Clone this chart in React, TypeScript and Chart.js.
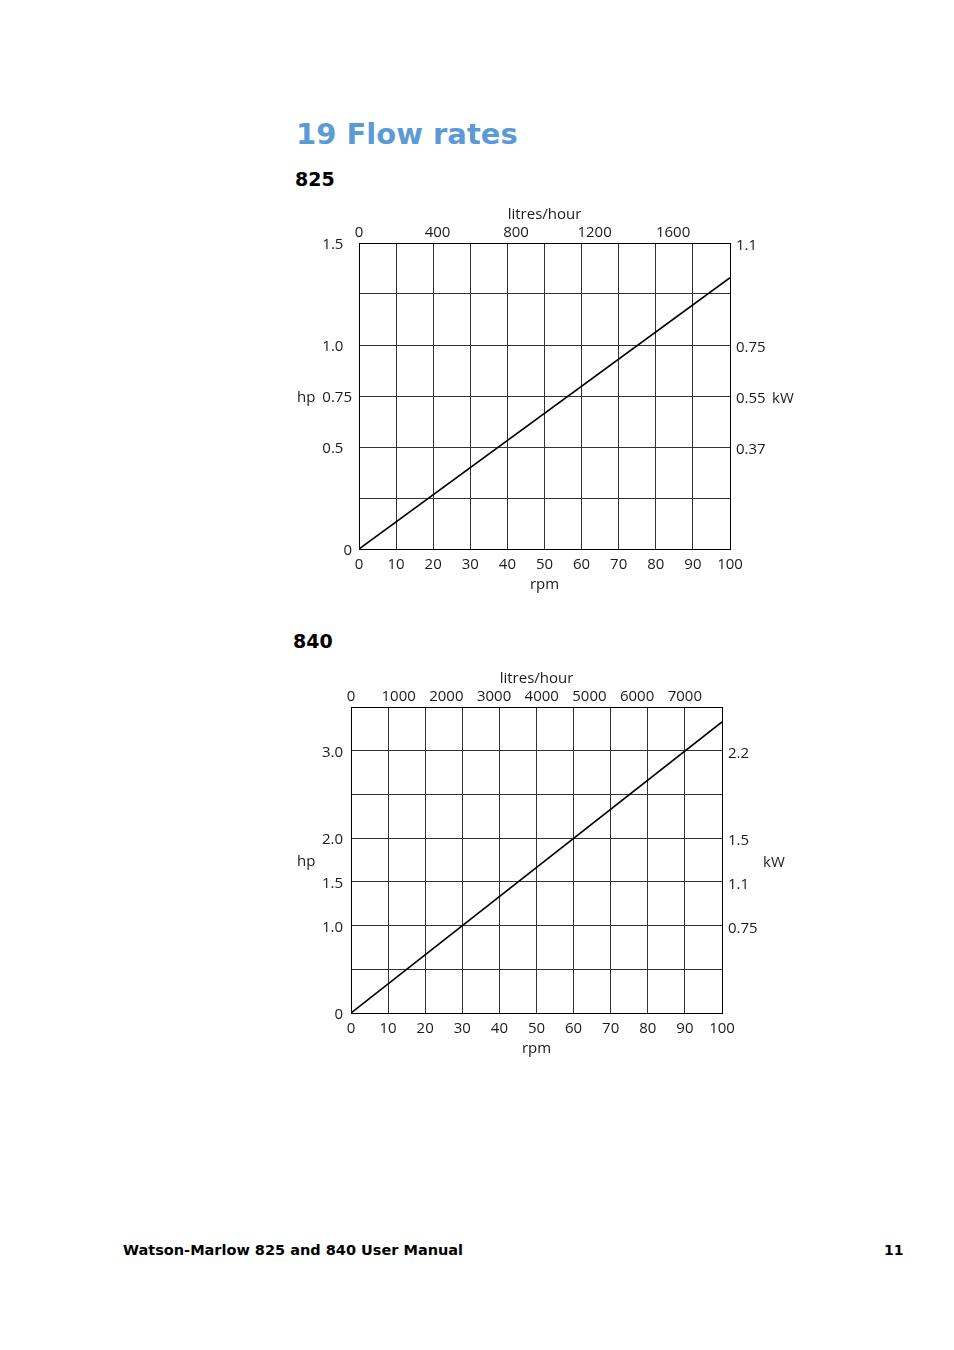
import { useEffect, useRef } from 'react';
import { Chart, registerables } from 'chart.js';
import type { Plugin } from 'chart.js';

Chart.register(...registerables);

// shared rpm axis
const RPM_TICKS = [0, 10, 20, 30, 40, 50, 60, 70, 80, 90, 100];

// 825 pump
const P825_RPM = [0, 100];
const P825_HP = [0, 1.33];
const P825_HP_GRID = [0, 0.25, 0.5, 0.75, 1.0, 1.25, 1.5];
const P825_HP_LABELS = ['0', '', '0.5', '0.75', '1.0', '', '1.5'];
const P825_KW_LABELS = ['', '', '0.37', '0.55', '0.75', '', '1.1'];
const P825_LH_TICKS = [0, 400, 800, 1200, 1600];
const P825_LH_MAX = 1890;

// 840 pump
const P840_RPM = [0, 100];
const P840_HP = [0, 3.33];
const P840_HP_GRID = [0, 0.5, 1.0, 1.5, 2.0, 2.5, 3.0, 3.5];
const P840_HP_LABELS = ['0', '', '1.0', '1.5', '2.0', '', '3.0', ''];
const P840_KW_LABELS = ['', '', '0.75', '1.1', '1.5', '', '2.2', ''];
const P840_LH_TICKS = [0, 1000, 2000, 3000, 4000, 5000, 6000, 7000];
const P840_LH_MAX = 7780;

const FONT = "'Open Sans', sans-serif";
const INK = '#1a1a1a';
const GRID = '#333';

interface Props {
  rpm: number[];
  hp: number[];
  hpGrid: number[];
  hpLabels: string[];
  kwLabels: string[];
  lhTicks: number[];
  lhMax: number;
  unitAt: number;
  leftPad: number;
  decimalAlign: boolean;   // 825 sheet lines the hp labels up on the decimal point
  hpOffset: number;
  kwOffset: number;
  style: React.CSSProperties;
}

const W = 520;
const H = 405;

function PowerChart(p: Props) {
  const canvasRef = useRef<HTMLCanvasElement>(null);

  useEffect(() => {
    if (!canvasRef.current) return;
    const tickFont = { family: FONT, size: 15 };
    const setTicks = (vals: number[]) => (s: any) => { s.ticks = vals.map(v => ({ value: v })); };

    // "hp" / "kW" unit labels, drawn level with a value on the hp scale
    const units: Plugin = {
      id: 'units',
      afterDraw(chart) {
        const { ctx, chartArea, scales } = chart;
        const y = scales.y.getPixelForValue(p.unitAt);
        ctx.save();
        ctx.font = `15px ${FONT}`;
        ctx.fillStyle = INK;
        ctx.textBaseline = 'middle';
        ctx.textAlign = 'left';
        ctx.fillText('hp', chartArea.left - p.hpOffset, y + 2);
        ctx.fillText('kW', chartArea.right + p.kwOffset, y + 3);
        ctx.restore();
      },
    };

    const chart = new Chart(canvasRef.current, {
      type: 'line',
      data: {
        datasets: [{
          data: p.rpm.map((r, i) => ({ x: r, y: p.hp[i] })),
          borderColor: '#000',
          borderWidth: 1.6,
          pointRadius: 0,
          tension: 0,
        }],
      },
      options: {
        responsive: false,
        animation: false,
        events: [],
        layout: { padding: 0 },
        plugins: { legend: { display: false }, tooltip: { enabled: false } },
        scales: {
          x: {
            type: 'linear',
            position: 'bottom',
            min: 0,
            max: 100,
            afterBuildTicks: setTicks(RPM_TICKS),
            afterFit: (s: any) => { s.height = H - 354; },
            ticks: {
              font: tickFont, color: INK, padding: 7, maxRotation: 0, autoSkip: false,
              callback: v => String(v),
            },
            grid: { color: GRID, lineWidth: 1, drawTicks: false },
            border: { color: '#000', width: 1 },
            title: { display: true, text: 'rpm', font: tickFont, color: INK, padding: { top: 0, bottom: 6 } },
          },
          x2: {
            type: 'linear',
            position: 'top',
            min: 0,
            max: p.lhMax,
            afterBuildTicks: setTicks(p.lhTicks),
            afterFit: (s: any) => { s.height = 48; },
            ticks: {
              font: tickFont, color: INK, padding: 1, maxRotation: 0, autoSkip: false,
              callback: v => String(v),
            },
            grid: { display: false, drawTicks: false },
            border: { color: '#000', width: 1 },
            title: { display: true, text: 'litres/hour', font: tickFont, color: INK, padding: { top: 11, bottom: 0 } },
          },
          y: {
            type: 'linear',
            position: 'left',
            min: 0,
            max: p.hpGrid[p.hpGrid.length - 1],
            afterBuildTicks: setTicks(p.hpGrid),
            afterFit: (s: any) => { s.width = 69; },
            ticks: {
              font: tickFont, color: INK, padding: p.leftPad, autoSkip: false, labelOffset: 2,
              callback: (_v, i) => {
                const l = p.hpLabels[i];
                return p.decimalAlign && l.length === 3 ? l + '\u2007' : l;
              },
            },
            grid: { color: GRID, lineWidth: 1, drawTicks: false },
            border: { color: '#000', width: 1 },
          },
          y2: {
            type: 'linear',
            position: 'right',
            min: 0,
            max: p.hpGrid[p.hpGrid.length - 1],
            afterBuildTicks: setTicks(p.hpGrid),
            afterFit: (s: any) => { s.width = W - 440; },
            ticks: {
              font: tickFont, color: INK, padding: 6, autoSkip: false, labelOffset: 3,
              callback: (_v, i) => p.kwLabels[i],
            },
            grid: { display: false, drawTicks: false },
            border: { color: '#000', width: 1 },
          },
        },
      },
      plugins: [units],
    });

    return () => { chart.destroy(); };
  }, [p]);

  return (
    <div style={{ position: 'absolute', width: W, height: H, ...p.style }}>
      <canvas ref={canvasRef} width={W} height={H} style={{ width: W, height: H }} />
    </div>
  );
}

const chart825 = {
  rpm: P825_RPM, hp: P825_HP, hpGrid: P825_HP_GRID, hpLabels: P825_HP_LABELS,
  kwLabels: P825_KW_LABELS, lhTicks: P825_LH_TICKS, lhMax: P825_LH_MAX,
  unitAt: 0.75, leftPad: 7, decimalAlign: true, hpOffset: 62, kwOffset: 42,
  style: { left: 290, top: 195 },
};

const chart840 = {
  rpm: P840_RPM, hp: P840_HP, hpGrid: P840_HP_GRID, hpLabels: P840_HP_LABELS,
  kwLabels: P840_KW_LABELS, lhTicks: P840_LH_TICKS, lhMax: P840_LH_MAX,
  unitAt: 1.75, leftPad: 8, decimalAlign: false, hpOffset: 54, kwOffset: 41,
  style: { left: 282, top: 659 },
};

const heading: React.CSSProperties = {
  position: 'absolute', margin: 0, whiteSpace: 'nowrap',
  fontFamily: "'DejaVu Sans', Verdana, sans-serif", fontWeight: 'bold',
};

export default function App() {
  return (
    <div style={{ position: 'absolute', left: 0, top: 0, width: 954, height: 1350, background: '#fff', overflow: 'hidden' }}>
      <div style={{ ...heading, left: 296, top: 116, fontSize: 29, lineHeight: '36px', color: '#5b9bd5' }}>19 Flow rates</div>
      <div style={{ ...heading, left: 295, top: 168, fontSize: 19, lineHeight: '22px', color: '#000' }}>825</div>
      <div style={{ ...heading, left: 293, top: 630, fontSize: 19, lineHeight: '22px', color: '#000' }}>840</div>

      <PowerChart {...chart825} />
      <PowerChart {...chart840} />

      <div style={{ ...heading, left: 123, top: 1241, fontSize: 14.5, lineHeight: '18px', color: '#000' }}>
        Watson-Marlow 825 and 840 User Manual
      </div>
      <div style={{ ...heading, left: 884, top: 1241, fontSize: 14, lineHeight: '18px', color: '#000' }}>11</div>
    </div>
  );
}
